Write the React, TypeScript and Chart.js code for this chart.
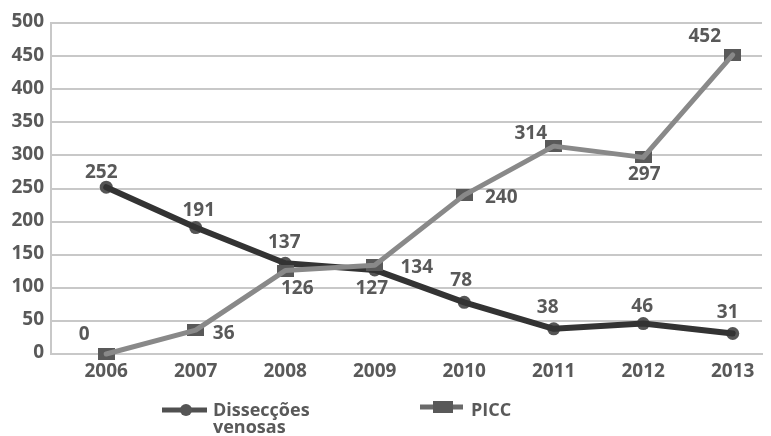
import React, { useEffect, useRef } from "react";
import { Chart, registerables } from "chart.js";

Chart.register(...registerables);

// ---- data ----
const categories = ["2006", "2007", "2008", "2009", "2010", "2011", "2012", "2013"];
const dissecoesValues = [252, 191, 137, 127, 78, 38, 46, 31];
const piccValues = [0, 36, 126, 134, 240, 314, 297, 452];
const yTickValues = [0, 50, 100, 150, 200, 250, 300, 350, 400, 450, 500];
const seriesNames = ["Dissecções venosas", "PICC"];

// ---- label placement (pixel offsets from each point) ----
const dissLabelOffsets = [
  [-5, -15], [3, -17], [-1, -21], [-3, 19], [-3, -22], [-6, -21], [-1, -17], [-5, -21],
];
const piccLabelOffsets = [
  [-22, -19], [28, 3], [12, 18], [42, 2], [37, 2], [-23, -13], [1, 17], [-28, -18],
];

const TEXT = "#595959";
const GRID = "#c8c8c8";
const DARK_LINE = "#333333";
const DARK_MARK = "#555555";
const LIGHT_LINE = "#898989";
const LIGHT_MARK = "#595959";
const FONT = '"Open Sans", "DejaVu Sans", sans-serif';

function makeRect(w: number, h: number, color: string) {
  const c = document.createElement("canvas");
  c.width = w;
  c.height = h;
  const ctx = c.getContext("2d")!;
  ctx.fillStyle = color;
  ctx.fillRect(0, 0, w, h);
  return c;
}

export default function App() {
  const ref = useRef<HTMLCanvasElement | null>(null);

  useEffect(() => {
    if (!ref.current) return;
    const rectMarker = makeRect(17, 12, LIGHT_MARK);
    const dissData = dissecoesValues.map((y, i) => ({ x: i, y }));
    const piccData = piccValues.map((y, i) => ({ x: i, y }));

    const labelPlugin = {
      id: "customLabels",
      afterDatasetsDraw(chart: any) {
        const ctx = chart.ctx;
        const xs = chart.scales.x;
        const ys = chart.scales.y;
        ctx.save();
        ctx.font = `bold 19px ${FONT}`;
        ctx.fillStyle = TEXT;
        ctx.textAlign = "center";
        ctx.textBaseline = "middle";
        dissecoesValues.forEach((v, i) => {
          const [dx, dy] = dissLabelOffsets[i];
          ctx.fillText(String(v), xs.getPixelForValue(i) + dx, ys.getPixelForValue(v) + dy);
        });
        piccValues.forEach((v, i) => {
          const [dx, dy] = piccLabelOffsets[i];
          ctx.fillText(String(v), xs.getPixelForValue(i) + dx, ys.getPixelForValue(v) + dy);
        });
        ctx.restore();
      },
      afterDraw(chart: any) {
        const ctx = chart.ctx;
        ctx.save();
        // legend item 1
        ctx.strokeStyle = "#505050";
        ctx.lineWidth = 5;
        ctx.beginPath();
        ctx.moveTo(162, 410);
        ctx.lineTo(207, 410);
        ctx.stroke();
        ctx.fillStyle = DARK_MARK;
        ctx.beginPath();
        ctx.arc(186, 410, 6, 0, Math.PI * 2);
        ctx.fill();
        // legend item 2
        ctx.strokeStyle = "#6a6a6a";
        ctx.lineWidth = 5;
        ctx.beginPath();
        ctx.moveTo(420, 407);
        ctx.lineTo(463, 407);
        ctx.stroke();
        ctx.fillStyle = LIGHT_MARK;
        ctx.fillRect(433, 401, 20, 12);
        // texts
        ctx.font = `bold 18px ${FONT}`;
        ctx.fillStyle = TEXT;
        ctx.textAlign = "left";
        ctx.textBaseline = "alphabetic";
        const parts = seriesNames[0].split(" ");
        ctx.fillText(parts[0], 213, 416);
        ctx.fillText(parts[1], 213, 433);
        ctx.fillText(seriesNames[1], 471, 416);
        ctx.restore();
      },
    };

    const chart = new Chart(ref.current, {
      type: "line",
      data: {
        datasets: [
          {
            label: seriesNames[1],
            data: piccData,
            borderColor: LIGHT_LINE,
            borderWidth: 5,
            pointRadius: 0,
            borderJoinStyle: "round",
            borderCapStyle: "round",
            tension: 0,
            order: 0,
            clip: false as any,
          },
          {
            label: seriesNames[1] + " marker",
            data: piccData,
            showLine: false,
            pointStyle: rectMarker as any,
            pointRadius: 8,
            order: 1,
            clip: false as any,
          },
          {
            label: seriesNames[0],
            data: dissData,
            borderColor: DARK_LINE,
            borderWidth: 6,
            pointRadius: 0,
            borderJoinStyle: "round",
            borderCapStyle: "round",
            tension: 0,
            order: 2,
            clip: false as any,
          },
          {
            label: seriesNames[0] + " marker",
            data: dissData,
            showLine: false,
            pointStyle: "circle",
            pointRadius: 6.5,
            pointBackgroundColor: DARK_MARK,
            pointBorderWidth: 0,
            order: 3,
            clip: false as any,
          },
        ] as any,
      },
      options: {
        animation: false,
        responsive: false,
        maintainAspectRatio: false,
        layout: { padding: { top: 23, left: 0, right: 0, bottom: 0 } },
        plugins: {
          legend: { display: false },
          tooltip: { enabled: false },
          title: { display: false },
        },
        scales: {
          x: {
            type: "linear",
            min: -0.617,
            max: 7.327,
            afterBuildTicks: (axis: any) => {
              axis.ticks = categories.map((_, i) => ({ value: i }));
            },
            afterFit: (axis: any) => {
              axis.height = 82;
            },
            grid: { display: false, drawTicks: false },
            border: { display: true, color: GRID, width: 2 },
            ticks: {
              color: TEXT,
              padding: 6,
              autoSkip: false,
              maxRotation: 0,
              font: { family: FONT, size: 19, weight: "bold" },
              callback: (v: any) => categories[v] ?? "",
            },
          },
          y: {
            min: 0,
            max: 500,
            afterBuildTicks: (axis: any) => {
              axis.ticks = yTickValues.map((v) => ({ value: v }));
            },
            afterFit: (axis: any) => {
              axis.width = 51;
            },
            grid: { color: GRID, lineWidth: 2, drawTicks: false },
            border: { display: true, color: GRID, width: 2 },
            ticks: {
              color: TEXT,
              padding: 7,
              labelOffset: -1,
              font: { family: FONT, size: 19, weight: "bold" },
            },
          },
        },
      } as any,
      plugins: [labelPlugin],
    });
    return () => chart.destroy();
  }, []);

  return (
    <div style={{ position: "fixed", left: 0, top: 0, width: 771, height: 436, overflow: "hidden", background: "#fff" }}>
      <canvas ref={ref} width={771} height={436} style={{ width: 771, height: 436, display: "block" }} />
    </div>
  );
}
